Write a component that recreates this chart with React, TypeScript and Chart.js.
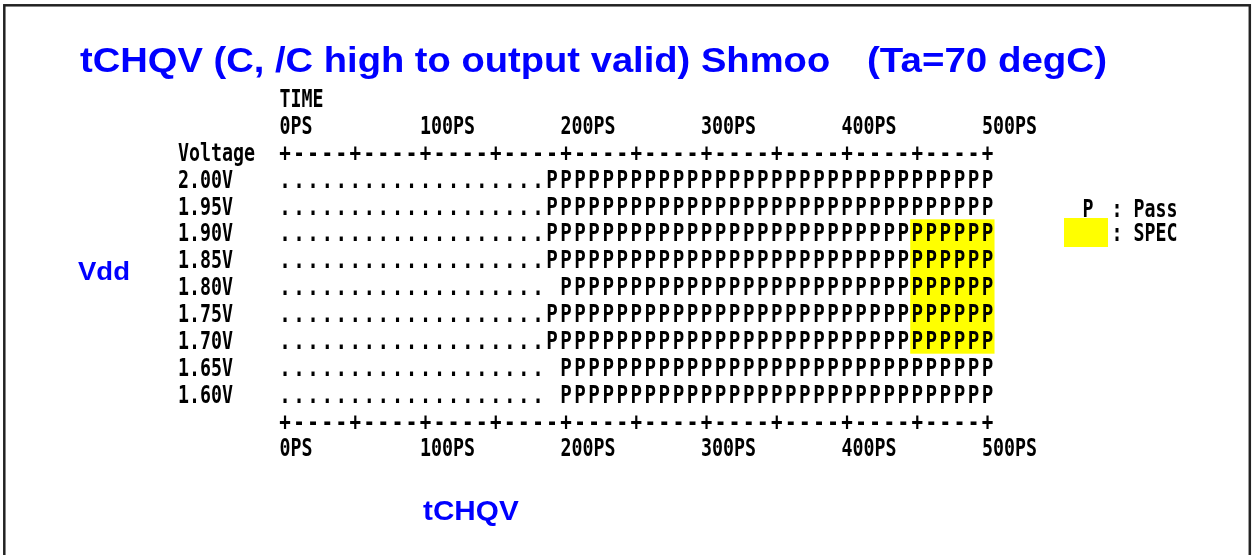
import React, { useEffect, useRef } from "react";
import { Chart, registerables } from "chart.js";

Chart.register(...registerables);

// ---------- data ----------
const TITLE_MAIN = "tCHQV (C, /C high to output valid) Shmoo";
const TITLE_COND = "(Ta=70 degC)";
const Y_TITLE = "Vdd";
const X_TITLE = "tCHQV";
const X_HEADER = "TIME";
const Y_HEADER = "Voltage";

const voltages = [2.0, 1.95, 1.9, 1.85, 1.8, 1.75, 1.7, 1.65, 1.6];
const voltageLabels = ["2.00V", "1.95V", "1.90V", "1.85V", "1.80V", "1.75V", "1.70V", "1.65V", "1.60V"];

// one character per 10 ps step, 0 ps .. 500 ps ('.' = fail, 'P' = pass, ' ' = not shown)
const shmooRows = [
  "...................PPPPPPPPPPPPPPPPPPPPPPPPPPPPPPPP",
  "...................PPPPPPPPPPPPPPPPPPPPPPPPPPPPPPPP",
  "...................PPPPPPPPPPPPPPPPPPPPPPPPPPPPPPPP",
  "...................PPPPPPPPPPPPPPPPPPPPPPPPPPPPPPPP",
  "................... PPPPPPPPPPPPPPPPPPPPPPPPPPPPPPP",
  "...................PPPPPPPPPPPPPPPPPPPPPPPPPPPPPPPP",
  "...................PPPPPPPPPPPPPPPPPPPPPPPPPPPPPPPP",
  "................... PPPPPPPPPPPPPPPPPPPPPPPPPPPPPPP",
  "................... PPPPPPPPPPPPPPPPPPPPPPPPPPPPPPP",
];
const TIME_STEP_PS = 10;

const timeTicks = [0, 100, 200, 300, 400, 500];
const timeTickLabels = ["0PS", "100PS", "200PS", "300PS", "400PS", "500PS"];
const AXIS_PATTERN = "+----+----+----+----+----+----+----+----+----+----+";

const specTimes = [450, 500];
const specVolts = [1.7, 1.9];

const LEGEND_PASS = ["P", ": Pass"];
const LEGEND_SPEC = ": SPEC";

// ---------- styles ----------
const BLUE = "#0000FF";
const YELLOW = "#FFFF00";
const MONO_FONT = "bold 24px 'DejaVu Sans Mono'";
const LABEL_PITCH = 11;
const CAP_HALF = 8.7;

function monoText(ctx: CanvasRenderingContext2D, text: string, left: number, baseline: number) {
  ctx.save();
  ctx.font = MONO_FONT;
  const adv = ctx.measureText("0").width;
  const s = LABEL_PITCH / adv;
  ctx.translate(left, baseline);
  ctx.scale(s, 1);
  ctx.textAlign = "left";
  ctx.textBaseline = "alphabetic";
  ctx.fillStyle = "#000";
  ctx.fillText(text, 0, 0);
  ctx.restore();
}

function monoGlyph(ctx: CanvasRenderingContext2D, ch: string, cx: number, baseline: number) {
  ctx.save();
  ctx.font = MONO_FONT;
  const adv = ctx.measureText("0").width;
  const s = LABEL_PITCH / adv;
  ctx.translate(cx, baseline);
  ctx.scale(s * 1.05, 1);
  ctx.textAlign = "center";
  ctx.textBaseline = "alphabetic";
  ctx.fillStyle = "#000";
  ctx.fillText(ch, 0, 0);
  ctx.restore();
}

function wideText(ctx: CanvasRenderingContext2D, text: string, left: number, baseline: number, size: number, sx: number) {
  ctx.save();
  ctx.font = `bold ${size}px 'Liberation Sans', Arial, sans-serif`;
  ctx.translate(left, baseline);
  ctx.scale(sx, 1);
  ctx.textAlign = "left";
  ctx.textBaseline = "alphabetic";
  ctx.fillStyle = BLUE;
  ctx.fillText(text, 0, 0);
  ctx.restore();
}

const shmooPlugin = {
  id: "shmoo",
  beforeDraw(chart: any) {
    const ctx = chart.ctx as CanvasRenderingContext2D;
    ctx.save();
    ctx.fillStyle = "#fff";
    ctx.fillRect(0, 0, chart.width, chart.height);
    ctx.strokeStyle = "#222";
    ctx.lineWidth = 2.5;
    ctx.strokeRect(4.3, 5.3, 1245.5, 600);
    ctx.restore();
  },
  beforeDatasetsDraw(chart: any) {
    const ctx = chart.ctx as CanvasRenderingContext2D;
    const xs = chart.scales.x;
    const ys = chart.scales.y;
    const halfCell = (xs.getPixelForValue(TIME_STEP_PS) - xs.getPixelForValue(0)) / 2;
    const halfRow = (ys.getPixelForValue(1.6) - ys.getPixelForValue(1.65)) / 2;
    const x0 = xs.getPixelForValue(specTimes[0]) - halfCell;
    const x1 = xs.getPixelForValue(specTimes[1]) + halfCell;
    const y0 = ys.getPixelForValue(specVolts[1]) - halfRow;
    const y1 = ys.getPixelForValue(specVolts[0]) + halfRow;
    ctx.save();
    ctx.fillStyle = YELLOW;
    ctx.fillRect(x0, y0, x1 - x0, y1 - y0);
    ctx.restore();
  },
  afterDatasetsDraw(chart: any) {
    const ctx = chart.ctx as CanvasRenderingContext2D;
    const xs = chart.scales.x;
    const ys = chart.scales.y;

    // shmoo cells
    chart.data.datasets.forEach((ds: any, di: number) => {
      const meta = chart.getDatasetMeta(di);
      meta.data.forEach((el: any) => {
        monoGlyph(ctx, ds.glyph, el.x, el.y + CAP_HALF);
      });
    });

    // axis rows "+----+"
    const axisRows = [2.05, 1.55];
    axisRows.forEach((v) => {
      const by = ys.getPixelForValue(v) + CAP_HALF;
      for (let i = 0; i < AXIS_PATTERN.length; i++) {
        monoGlyph(ctx, AXIS_PATTERN[i], xs.getPixelForValue(i * TIME_STEP_PS), by);
      }
    });

    const halfPitch = LABEL_PITCH / 2;
    // tick labels top and bottom
    [2.1, 1.5].forEach((v) => {
      const by = ys.getPixelForValue(v) + CAP_HALF;
      timeTicks.forEach((t, i) => {
        monoText(ctx, timeTickLabels[i], xs.getPixelForValue(t) - halfPitch, by);
      });
    });
    // TIME header
    monoText(ctx, X_HEADER, xs.getPixelForValue(0) - halfPitch, ys.getPixelForValue(2.15) + CAP_HALF);
    // Voltage header and labels
    const labelLeft = 178;
    monoText(ctx, Y_HEADER, labelLeft, ys.getPixelForValue(2.05) + CAP_HALF);
    voltages.forEach((v, i) => {
      monoText(ctx, voltageLabels[i], labelLeft, ys.getPixelForValue(v) + CAP_HALF);
    });

    // legend
    monoText(ctx, LEGEND_PASS[0], 1082.5, 208 + CAP_HALF);
    monoText(ctx, LEGEND_PASS[1], 1111.5, 208 + CAP_HALF);
    ctx.save();
    ctx.fillStyle = YELLOW;
    ctx.fillRect(1064, 218, 44, 29);
    ctx.restore();
    monoText(ctx, LEGEND_SPEC, 1111.5, 232 + CAP_HALF);

    // titles
    wideText(ctx, TITLE_MAIN, 80, 72, 35, 1.09);
    wideText(ctx, TITLE_COND, 867, 72, 35, 1.1);
    wideText(ctx, Y_TITLE, 78, 280, 25, 1.1);
    wideText(ctx, X_TITLE, 423, 520, 27, 1.1);
  },
};

export default function App() {
  const ref = useRef<HTMLCanvasElement | null>(null);
  useEffect(() => {
    if (!ref.current) return;
    const pass: { x: number; y: number }[] = [];
    const fail: { x: number; y: number }[] = [];
    shmooRows.forEach((row, ri) => {
      for (let j = 0; j < row.length; j++) {
        const pt = { x: j * TIME_STEP_PS, y: voltages[ri] };
        if (row[j] === "P") pass.push(pt);
        else if (row[j] === ".") fail.push(pt);
      }
    });
    const chart = new Chart(ref.current, {
      type: "scatter",
      data: {
        datasets: [
          { label: "Pass", data: pass, pointRadius: 0, glyph: "P" } as any,
          { label: "Fail", data: fail, pointRadius: 0, glyph: "." } as any,
        ],
      },
      options: {
        responsive: false,
        animation: false,
        events: [],
        layout: { padding: { left: 285, right: 1252 - 987.5, top: 179, bottom: 555 - 394 } },
        scales: {
          x: { type: "linear", min: 0, max: 500, display: false },
          y: { type: "linear", min: 1.6, max: 2.0, display: false },
        },
        plugins: {
          legend: { display: false },
          tooltip: { enabled: false },
          title: { display: false },
        },
      },
      plugins: [shmooPlugin],
    });
    return () => chart.destroy();
  }, []);
  return (
    <div style={{ position: "absolute", left: 0, top: 0, width: 1252, height: 555 }}>
      <canvas ref={ref} width={1252} height={555} style={{ display: "block" }} />
    </div>
  );
}
